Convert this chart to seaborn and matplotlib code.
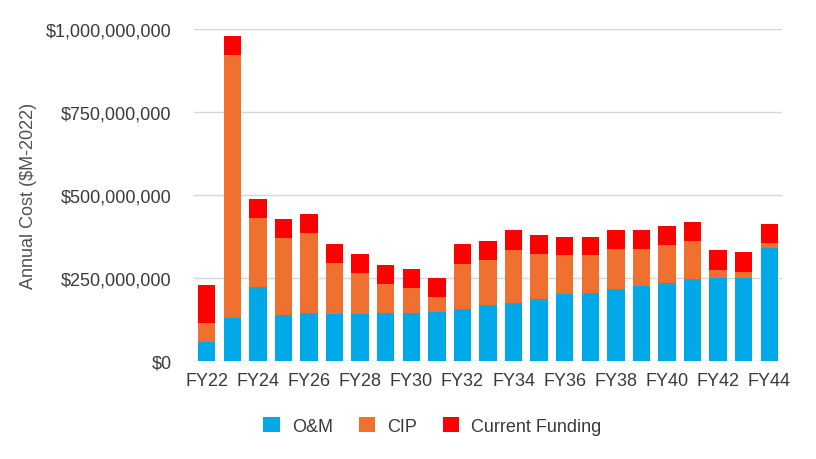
import numpy as np
import pandas as pd
import matplotlib
matplotlib.use("Agg")
import matplotlib.pyplot as plt
import seaborn as sns
from matplotlib.patches import Patch
from matplotlib.ticker import FuncFormatter

# values in $M
years = ["FY%d" % y for y in range(22, 45)]
om = [57, 130, 223, 139, 144, 142, 142, 144, 144, 148, 157, 168, 175, 186, 203,
      205, 216, 225, 234, 246, 250, 250, 339]
cip = [57, 791, 207, 232, 241, 153, 122, 87, 76, 45, 136, 135, 160, 136, 115,
       113, 121, 112, 115, 116, 25, 19, 16]
funding = [116, 58, 57, 58, 58, 58, 58, 57, 58, 58, 60, 59, 60, 58, 57,
           57, 58, 58, 57, 57, 58, 60, 58]
tick_labels = [y if i % 2 == 0 else "" for i, y in enumerate(years)]
series_names = ["O&M", "CIP", "Current Funding"]
colors = ["#00a8e8", "#f07030", "#ff0000"]

df = pd.DataFrame({"year": years, "om": om, "cip": cip, "funding": funding})
df["lvl1"] = df["om"] * 1e6
df["lvl2"] = (df["om"] + df["cip"]) * 1e6
df["lvl3"] = (df["om"] + df["cip"] + df["funding"]) * 1e6

sns.set_style("white")
plt.rcParams["font.family"] = ["Liberation Sans", "DejaVu Sans"]
txt = "#3a3a3a"

fig = plt.figure(figsize=(8.16, 4.6), dpi=100)
ax = fig.add_axes([194 / 816, 1 - 362 / 460, 588 / 816, 332 / 460])

# stacked by overdrawing cumulative totals
for col, c in zip(["lvl3", "lvl2", "lvl1"], colors[::-1]):
    sns.barplot(data=df, x="year", y=col, color=c, width=0.68,
                saturation=1, linewidth=0, ax=ax, zorder=3)

ax.set_ylim(0, 1e9)
ax.set_xlim(-0.5, len(years) - 0.5)
ax.set_yticks([0, 2.5e8, 5e8, 7.5e8, 1e9])
ax.yaxis.set_major_formatter(FuncFormatter(lambda v, p: "${:,.0f}".format(v)))
ax.set_xticks(range(len(years)))
ax.set_xticklabels(tick_labels)
ax.grid(axis="y", color="#d6d6d6", linewidth=1, zorder=0)
ax.set_axisbelow(True)
sns.despine(ax=ax, left=True, bottom=True, top=True, right=True)
ax.tick_params(axis="y", length=0, pad=16, labelsize=13, labelcolor=txt)
ax.tick_params(axis="x", length=0, pad=8, labelsize=13, labelcolor=txt)
ax.set_xlabel("")
ax.set_ylabel("Annual Cost ($M-2022)", fontsize=13, color="#505050")
ax.yaxis.set_label_coords(-0.267, 0.5)

handles = [Patch(facecolor=c, edgecolor="none") for c in colors]
fig.legend(handles, series_names, loc="center", bbox_to_anchor=(0.53, 0.072),
           ncol=3, frameon=False, fontsize=13, labelcolor=txt,
           handlelength=0.9, handleheight=0.9, handletextpad=0.66, columnspacing=1.45)

fig.savefig("out.png", dpi=100)
